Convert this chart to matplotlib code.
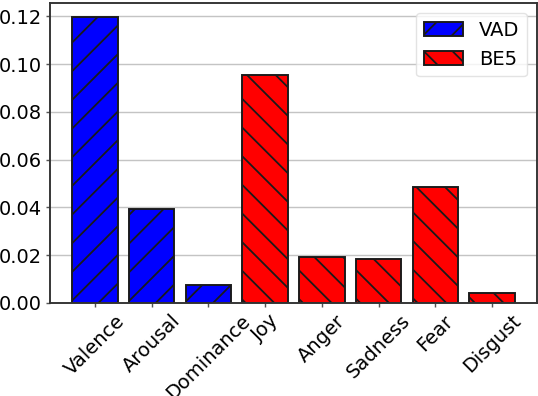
import numpy as np
import matplotlib
matplotlib.use("Agg")
import matplotlib.pyplot as plt

plt.rcParams["font.family"] = ["DejaVu Sans"]
plt.rcParams["hatch.linewidth"] = 0.75

# data
vad_labels = ["Valence", "Arousal", "Dominance"]
vad_values = [0.1195, 0.0393, 0.0075]
be5_labels = ["Joy", "Anger", "Sadness", "Fear", "Disgust"]
be5_values = [0.0955, 0.0193, 0.0186, 0.0486, 0.0043]
yticks = [0.00, 0.02, 0.04, 0.06, 0.08, 0.10, 0.12]

DPI = 172
fig = plt.figure(figsize=(538 / DPI, 396 / DPI), dpi=DPI)
ax = fig.add_axes([0.093, 0.235, 0.905, 0.757])

FS = 8.2
x_vad = np.arange(len(vad_labels))
x_be5 = np.arange(len(be5_labels)) + len(vad_labels)

ax.bar(x_vad, vad_values, width=0.8, color="blue", edgecolor="#1a1a1a",
       linewidth=0.8, hatch="//", label="VAD", zorder=2)
ax.bar(x_be5, be5_values, width=0.8, color="red", edgecolor="#1a1a1a",
       linewidth=0.8, hatch="\\\\", label="BE5", zorder=2)

ax.set_xticks(np.concatenate([x_vad, x_be5]))
ax.set_xticklabels(vad_labels + be5_labels, rotation=45, fontsize=FS)
ax.set_yticks(yticks)
ax.set_yticklabels([f"{v:.2f}" for v in yticks], fontsize=FS)

ax.set_axisbelow(True)
ax.yaxis.grid(True, color="#c4c4c4", linewidth=0.6)
ax.tick_params(axis="both", length=1.5, width=0.6, color="#555555", pad=2)

for s in ax.spines.values():
    s.set_color("#333333")
    s.set_linewidth(0.8)

leg = ax.legend(loc="upper right", fontsize=FS, fancybox=True, framealpha=0.8)
leg.get_frame().set_edgecolor("#dddddd")
leg.get_frame().set_linewidth(0.6)

fig.savefig("out.png", dpi=DPI)
